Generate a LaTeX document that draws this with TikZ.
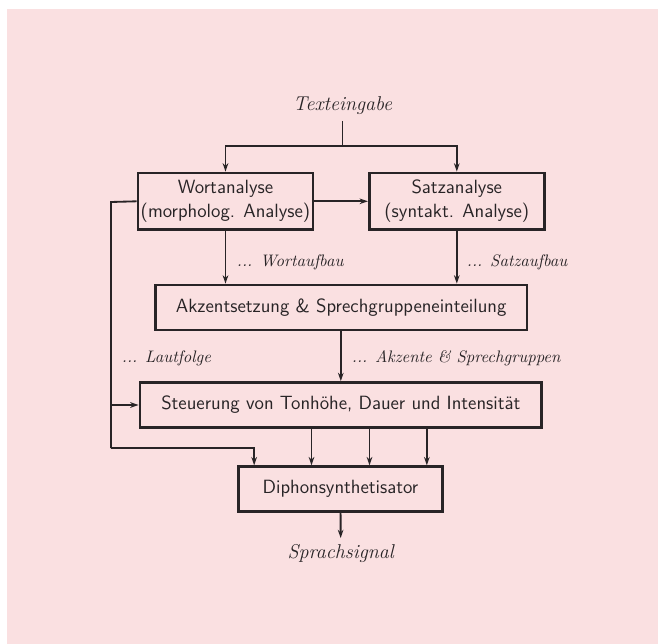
\documentclass[tikz,border=0pt]{standalone}
\usetikzlibrary{arrows.meta}
\definecolor{papier}{RGB}{250,224,225}
\definecolor{tinte}{RGB}{40,36,38}
\begin{document}
\begin{tikzpicture}[x=0.6pt, y=-0.6pt,
    block/.style={draw=tinte, line width=1.7pt, inner sep=0pt, text=tinte, align=center,
        font=\sffamily\fontsize{11.5}{14.5}\selectfont},
    lbl/.style={anchor=west, text=tinte, font=\itshape\fontsize{10}{12}\selectfont},
    endlbl/.style={text=tinte, font=\itshape\fontsize{12}{14}\selectfont},
    pfeil/.style={draw=tinte, line width=1.1pt, -{Stealth[length=5pt, width=3.4pt]}},
    linie/.style={draw=tinte, line width=1.1pt}]
    \useasboundingbox (0,0) rectangle (658,644);
    \fill[papier] (7,9) rectangle (658,644);

    \node[endlbl] (ein) at (342.5,106) {Texteingabe};
    \node[block, minimum width=105pt, minimum height=34pt] (wort) at (225.5,201.3) {Wortanalyse\\(morpholog. Analyse)};
    \node[block, minimum width=105pt, minimum height=34pt] (satz) at (456.8,201.3) {Satzanalyse\\(syntakt. Analyse)};
    \node[block, minimum width=223pt, minimum height=27pt] (akzent) at (341.2,307.5) {Akzentsetzung \& Sprechgruppeneinteilung};
    \node[block, minimum width=241pt, minimum height=27pt] (steuer) at (340.8,405) {Steuerung von Tonhöhe, Dauer und Intensität};
    \node[block, minimum width=122.6pt, minimum height=27pt] (diphon) at (340.5,489.2) {Diphonsynthetisator};
    \node[endlbl] (aus) at (340.7,553) {Sprachsignal};

    \coordinate (gabel) at (342.5,146);
    \coordinate (links) at (111,202);
    \coordinate (unten) at (111,448);

    \draw[linie] (ein) -- (gabel);
    \draw[pfeil] (gabel) -| (wort.north);
    \draw[pfeil] (gabel) -| (satz.north);
    \draw[pfeil] (wort) -- (satz);
    \draw[pfeil] (wort.south) -- (wort.south |- akzent.north);
    \draw[pfeil] (satz.south) -- (satz.south |- akzent.north);
    \draw[pfeil] (akzent.south -| steuer.north) -- (steuer.north);
    \draw[pfeil] (diphon) -- (aus);

    \draw[linie] (wort.west) -- (links) -- (unten);
    \draw[pfeil] (links |- steuer.west) -- (steuer.west);
    \draw[pfeil] (unten) -| ([xshift=-51.8pt]diphon.north);
    \foreach \dx in {-17.4, 17.4, 51.8}{
        \draw[pfeil] ([xshift=\dx pt]diphon.north |- steuer.south) -- ([xshift=\dx pt]diphon.north);
    }

    \node[lbl] (wortaufbau) at (231,262) {... Wortaufbau};
    \node[lbl] (satzaufbau) at (461,262) {... Satzaufbau};
    \node[lbl] (lautfolge) at (116,358) {... Lautfolge};
    \node[lbl] (akzente) at (346,358) {... Akzente \& Sprechgruppen};
\end{tikzpicture}
\end{document}
